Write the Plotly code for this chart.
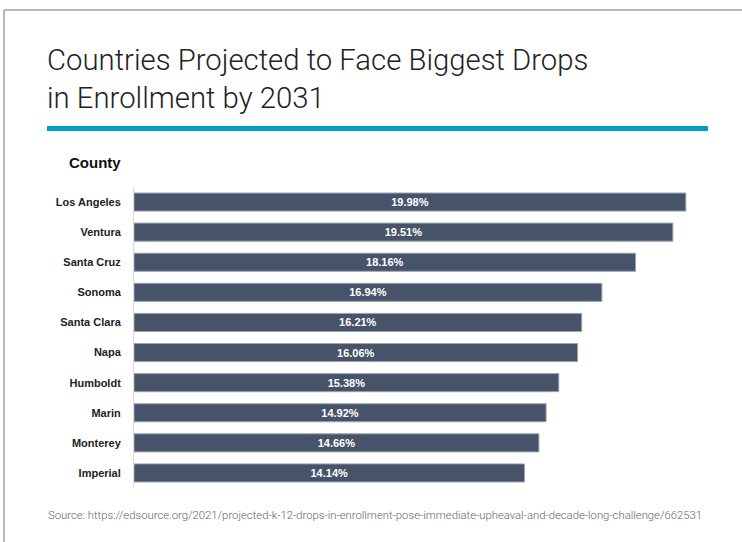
import plotly.graph_objects as go

counties = ["Los Angeles", "Ventura", "Santa Cruz", "Sonoma", "Santa Clara",
            "Napa", "Humboldt", "Marin", "Monterey", "Imperial"]
drops = [19.98, 19.51, 18.16, 16.94, 16.21, 16.06, 15.38, 14.92, 14.66, 14.14]
labels = [f"{v:.2f}%" for v in drops]

W, H = 742, 542
L, R, T, B = 134, 28, 187, 54
pw, ph = W - L - R, H - T - B

def px(x):
    return (x - L) / pw

def py(y):
    return 1 - (y - T) / ph

fig = go.Figure(go.Bar(
    x=drops, y=counties, orientation="h",
    marker=dict(color="#465369", line=dict(color="#9aa3b3", width=1)),
    text=labels, textposition="inside", insidetextanchor="middle",
    textfont=dict(family="Liberation Sans", size=11, color="white", weight="bold"),
    width=0.6, hoverinfo="skip",
))

fig.update_layout(
    width=W, height=H, margin=dict(l=L, r=R, t=T, b=B),
    paper_bgcolor="white", plot_bgcolor="white", showlegend=False,
    xaxis=dict(range=[0, 21], visible=False, fixedrange=True),
    yaxis=dict(autorange="reversed", showline=True, linecolor="#d9d9d9", linewidth=1,
               ticks="", ticklabelstandoff=10, showgrid=False,
               tickfont=dict(family="Liberation Sans", size=11, color="#222", weight="bold")),
    shapes=[
        dict(type="line", xref="paper", yref="paper", x0=px(4), x1=px(742), y0=py(10), y1=py(10),
             line=dict(color="#a0a0a0", width=1.5)),
        dict(type="line", xref="paper", yref="paper", x0=px(4), x1=px(4), y0=py(10), y1=py(542),
             line=dict(color="#a0a0a0", width=1.5)),
        dict(type="rect", xref="paper", yref="paper", x0=px(47), x1=px(708), y0=py(126), y1=py(131),
             fillcolor="#00a0c6", line=dict(width=0)),
    ],
    annotations=[
        dict(xref="paper", yref="paper", x=px(45), y=py(41), xanchor="left", yanchor="top",
             align="left", showarrow=False,
             text="Countries Projected to Face Biggest Drops<br>in Enrollment by 2031",
             font=dict(family="Roboto", size=29.3, color="#222", weight=300)),
        dict(xref="paper", yref="paper", x=px(123), y=py(163), xanchor="right", yanchor="middle",
             showarrow=False, text="County",
             font=dict(family="Liberation Sans", size=15, color="#111", weight="bold")),
        dict(xref="paper", yref="paper", x=px(46), y=py(515), xanchor="left", yanchor="middle",
             showarrow=False,
             text="Source: https://edsource.org/2021/projected-k-12-drops-in-enrollment-pose-immediate-upheaval-and-decade-long-challenge/662531",
             font=dict(family="Roboto", size=11.3, color="#666", weight=300)),
    ],
)

fig.write_html("out.html", config={"displayModeBar": False})
